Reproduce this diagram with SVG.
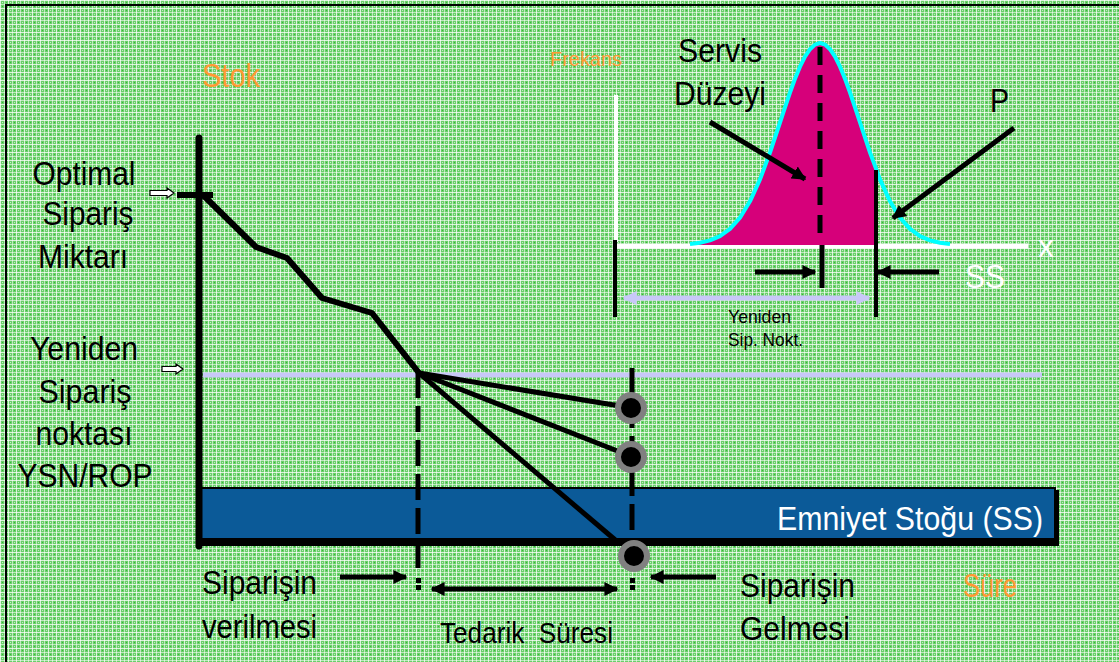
<svg xmlns="http://www.w3.org/2000/svg" width="1119" height="662" viewBox="0 0 1119 662">
<defs>
<pattern id="grid" x="0" y="0" width="8" height="8" patternUnits="userSpaceOnUse">
<rect width="8" height="8" fill="#6acf6a"/>
<rect x="0" y="0" width="8" height="1" fill="#ffffff" opacity="0.75"/>
<rect x="0" y="0" width="1" height="8" fill="#ffffff" opacity="0.75"/>
<rect x="0" y="4" width="8" height="1" fill="#ffffff" opacity="0.55"/>
<rect x="4" y="0" width="1" height="8" fill="#ffffff" opacity="0.55"/>
<rect x="2" y="2" width="1" height="1" fill="#ffffff" opacity="0.6"/>
<rect x="6" y="6" width="1" height="1" fill="#ffffff" opacity="0.6"/>
<rect x="6" y="2" width="1" height="1" fill="#22b022" opacity="0.7"/>
<rect x="2" y="6" width="1" height="1" fill="#22b022" opacity="0.7"/>
</pattern>
<marker id="ah" viewBox="0 0 10 10" refX="9" refY="5" markerWidth="14" markerHeight="14" markerUnits="userSpaceOnUse" orient="auto-start-reverse">
<path d="M0,0 L10,5 L0,10 z" fill="#000"/>
</marker>
<marker id="ahl" viewBox="0 0 10 10" refX="9" refY="5" markerWidth="14" markerHeight="14" markerUnits="userSpaceOnUse" orient="auto-start-reverse">
<path d="M0,0 L10,5 L0,10 z" fill="#c8c8f8"/>
</marker>
<style>
text { font-family: "Liberation Sans", Arial, sans-serif; }
.lbl { font-size: 34px; fill: #000; }
.mid { text-anchor: middle; }
.org { fill: #ff9933; }
.wht { fill: #ffffff; }
.thick { stroke: #000; stroke-width: 6; fill: none; stroke-linejoin: round; }
.arr { stroke: #000; stroke-width: 5; fill: none; }
.dash { stroke: #000; stroke-width: 5; fill: none; stroke-dasharray: 26 8; }
.dot { fill: #000; stroke: #808080; stroke-width: 6; }
.wa { fill: #fff; stroke: #000; stroke-width: 1.2; }
</style>
</defs>

<g id="background">
<rect x="0" y="0" width="1119" height="662" fill="url(#grid)"/>
<line x1="5" y1="5" x2="1119" y2="5" stroke="#000" stroke-width="2"/>
<line x1="6" y1="5" x2="6" y2="662" stroke="#000" stroke-width="2"/>
</g>

<g id="safety-stock">
<rect x="200" y="488" width="855" height="54" fill="#0b5a98" stroke="#000" stroke-width="2"/>
<rect x="1055" y="490" width="4" height="52" fill="#000"/>
<text x="1043" y="530" class="lbl wht" text-anchor="end" textLength="266" lengthAdjust="spacingAndGlyphs">Emniyet Stoğu (SS)</text>
</g>

<g id="reorder-level">
<line x1="203" y1="375" x2="1042" y2="375" stroke="#c8c8f8" stroke-width="5"/>
</g>

<g id="axes">
<line x1="199" y1="138" x2="199" y2="546" stroke="#000" stroke-width="7" stroke-linecap="round"/>
<line x1="196" y1="542" x2="1059" y2="542" stroke="#000" stroke-width="8"/>
<line x1="177" y1="195" x2="213" y2="195" stroke="#000" stroke-width="6"/>
<polygon class="wa" points="150,190.5 167,190.5 167,188 174,193 167,198 167,195.5 150,195.5"/>
<polygon class="wa" points="162,366.5 176,366.5 176,364 183,369 176,374 176,371.5 162,371.5"/>
</g>

<g id="connectors">
<polyline class="thick" points="203,195 256,247 287,258 322,298 372,313 419,373"/>
<line class="arr" x1="419" y1="373" x2="620" y2="406"/>
<line class="arr" x1="419" y1="373" x2="620" y2="452"/>
<line class="arr" x1="419" y1="373" x2="620" y2="544"/>
<line class="dash" x1="418" y1="372" x2="418" y2="568"/>
<rect x="416" y="578" width="5" height="5"/>
<rect x="416" y="585" width="5" height="5"/>
<line class="dash" x1="632" y1="368" x2="632" y2="568"/>
<rect x="630" y="578" width="5" height="5"/>
<rect x="630" y="585" width="5" height="5"/>
<line class="arr" x1="340" y1="577" x2="406" y2="577" marker-end="url(#ah)"/>
<line class="arr" x1="716" y1="577" x2="651" y2="577" marker-end="url(#ah)"/>
<line class="arr" x1="432" y1="589" x2="617" y2="589" marker-start="url(#ah)" marker-end="url(#ah)"/>
</g>

<g id="arrival-points">
<circle class="dot" cx="631" cy="408" r="13"/>
<circle class="dot" cx="631" cy="457" r="13"/>
<circle class="dot" cx="634" cy="556" r="13"/>
</g>

<g id="left-labels">
<text x="202" y="87" class="lbl org" textLength="58" lengthAdjust="spacingAndGlyphs">Stok</text>
<text x="84" y="185" class="lbl mid" textLength="103" lengthAdjust="spacingAndGlyphs">Optimal</text>
<text x="88" y="225" class="lbl mid" textLength="91" lengthAdjust="spacingAndGlyphs">Sipariş</text>
<text x="83" y="268" class="lbl mid" textLength="90" lengthAdjust="spacingAndGlyphs">Miktarı</text>
<text x="84" y="360" class="lbl mid" textLength="108" lengthAdjust="spacingAndGlyphs">Yeniden</text>
<text x="85" y="403" class="lbl mid" textLength="93" lengthAdjust="spacingAndGlyphs">Sipariş</text>
<text x="84" y="445" class="lbl mid" textLength="97" lengthAdjust="spacingAndGlyphs">noktası</text>
<text x="85" y="487" class="lbl mid" textLength="135" lengthAdjust="spacingAndGlyphs">YSN/ROP</text>
</g>

<g id="bottom-labels">
<text x="202" y="594" class="lbl" textLength="115" lengthAdjust="spacingAndGlyphs">Siparişin</text>
<text x="202" y="638" class="lbl" textLength="115" lengthAdjust="spacingAndGlyphs">verilmesi</text>
<text x="440" y="643" font-size="29" style="white-space:pre" textLength="173" lengthAdjust="spacingAndGlyphs">Tedarik  Süresi</text>
<text x="740" y="597" class="lbl" textLength="115" lengthAdjust="spacingAndGlyphs">Siparişin</text>
<text x="740" y="640" class="lbl" textLength="110" lengthAdjust="spacingAndGlyphs">Gelmesi</text>
<text x="963" y="597" class="lbl org" textLength="54" lengthAdjust="spacingAndGlyphs">Süre</text>
</g>

<g id="distribution">
<line x1="616" y1="95" x2="616" y2="242" stroke="#fff" stroke-width="4"/>
<line x1="616" y1="246" x2="1028" y2="246" stroke="#fff" stroke-width="5"/>
<path d="M690,245 L700,242.8 L710,240.4 L720,236.1 L730,228.9 L740,217.7 L750,201.3 L760,179.4 L770,152.5 L780,122.5 L785,107.3 L790,92.5 L795,78.8 L800,66.7 L805,56.7 L810,49.2 L815,44.6 L820,43 L825,44.6 L830,49.2 L835,56.7 L840,66.7 L845,78.8 L850,92.5 L855,107.3 L860,122.5 L870,152.5 L876,169.2 L876,245 Z" fill="#d6007a"/>
<path d="M690,244 L700,242.8 L710,240.4 L720,236.1 L730,228.9 L740,217.7 L750,201.3 L760,179.4 L770,152.5 L780,122.5 L785,107.3 L790,92.5 L795,78.8 L800,66.7 L805,56.7 L810,49.2 L815,44.6 L820,43 L825,44.6 L830,49.2 L835,56.7 L840,66.7 L845,78.8 L850,92.5 L855,107.3 L860,122.5 L870,152.5 L880,179.4 L890,201.3 L900,217.7 L910,228.9 L920,236.1 L930,240.4 L940,242.8 L950,244" fill="none" stroke="#00ffff" stroke-width="4" stroke-linejoin="round"/>
<line x1="820" y1="47" x2="820" y2="242" stroke="#000" stroke-width="5" stroke-dasharray="18 10"/>
<line x1="822" y1="245" x2="822" y2="288" stroke="#000" stroke-width="5"/>
<line x1="876" y1="170" x2="876" y2="317" stroke="#000" stroke-width="4"/>
<line x1="615" y1="240" x2="615" y2="317" stroke="#000" stroke-width="4"/>
<line class="arr" x1="755" y1="272" x2="815" y2="272" marker-end="url(#ah)"/>
<line class="arr" x1="939" y1="272" x2="878" y2="272" marker-end="url(#ah)"/>
<line x1="624" y1="298" x2="869" y2="298" stroke="#c8c8f8" stroke-width="5" marker-start="url(#ahl)" marker-end="url(#ahl)"/>
<line class="arr" x1="710" y1="122" x2="805" y2="179" marker-end="url(#ah)"/>
<line class="arr" x1="1014" y1="128" x2="893" y2="218" marker-end="url(#ah)"/>
<text x="550" y="66" font-size="21" class="org" textLength="72" lengthAdjust="spacingAndGlyphs">Frekans</text>
<text x="678" y="62" class="lbl" textLength="84" lengthAdjust="spacingAndGlyphs">Servis</text>
<text x="674" y="105" class="lbl" textLength="92" lengthAdjust="spacingAndGlyphs">Düzeyi</text>
<text x="990" y="112" class="lbl" textLength="19" lengthAdjust="spacingAndGlyphs">P</text>
<text x="1038" y="257" font-size="32" class="wht">x</text>
<text x="965" y="288" class="lbl wht" textLength="40" lengthAdjust="spacingAndGlyphs">SS</text>
<text x="728" y="323" font-size="19" textLength="63" lengthAdjust="spacingAndGlyphs">Yeniden</text>
<text x="728" y="346" font-size="19" textLength="75" lengthAdjust="spacingAndGlyphs">Sip. Nokt.</text>
</g>
</svg>
